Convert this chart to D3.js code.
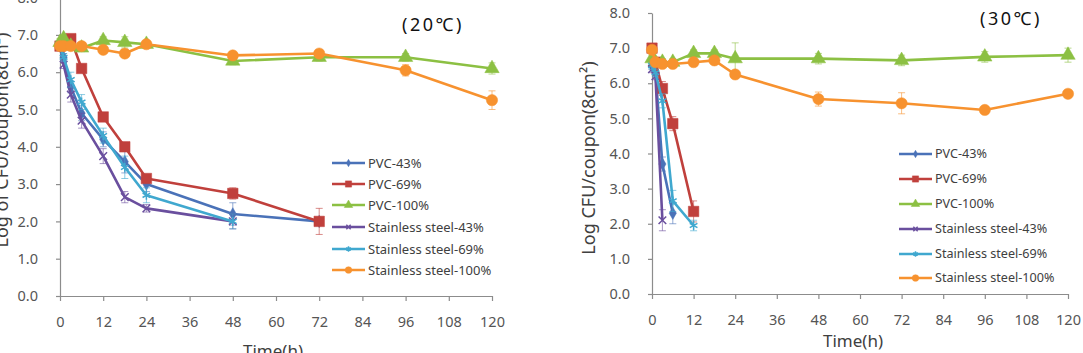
<!DOCTYPE html>
<html><head><meta charset="utf-8">
<script src="https://cdn.jsdelivr.net/npm/d3@7"></script>
<style>body{margin:0;background:#fff;} svg{display:block;}</style>
</head><body>
<svg id="c" width="1083" height="353"></svg>
<script>
// ---------- data ----------
const times = [0, 1, 3, 6, 12, 18, 24, 48, 72, 96, 120];
const xTicks = [0, 12, 24, 36, 48, 60, 72, 84, 96, 108, 120];
const yTicks = [0, 1, 2, 3, 4, 5, 6, 7, 8];
const seriesNames = ["PVC-43%", "PVC-69%", "PVC-100%", "Stainless steel-43%", "Stainless steel-69%", "Stainless steel-100%"];
const titles = ["(20\u2103)", "(30\u2103)"];

// 20 °C
const t20_pvc43  = [6.7, 6.4, 5.6, 4.9, 4.2, 3.6, 3.0, 2.2, 2.0, null, null];
const t20_pvc69  = [6.7, 6.8, 6.9, 6.1, 4.8, 4.0, 3.15, 2.75, 2.0, null, null];
const t20_pvc100 = [6.8, 6.9, 6.7, 6.65, 6.85, 6.8, 6.75, 6.3, 6.4, 6.4, 6.1];
const t20_ss43   = [6.7, 6.2, 5.4, 4.7, 3.75, 2.65, 2.35, 2.0, null, null, null];
const t20_ss69   = [6.7, 6.4, 5.8, 5.2, 4.3, 3.45, 2.7, 2.0, null, null, null];
const t20_ss100  = [6.7, 6.7, 6.7, 6.7, 6.6, 6.5, 6.75, 6.45, 6.5, 6.05, 5.25];
const e20_pvc43  = [0.1, 0.1, 0.15, 0.2, 0.2, 0.3, 0.2, 0.3, 0.1, null, null];
const e20_pvc69  = [0.1, 0.1, 0.1, 0.1, 0.1, 0.1, 0.1, 0.15, 0.35, null, null];
const e20_pvc100 = [0.1, 0.1, 0.1, 0.1, 0.1, 0.15, 0.1, 0.1, 0.1, 0.1, 0.15];
const e20_ss43   = [0.1, 0.1, 0.2, 0.2, 0.2, 0.15, 0.1, 0.2, null, null, null];
const e20_ss69   = [0.1, 0.1, 0.2, 0.2, 0.2, 0.3, 0.2, 0.2, null, null, null];
const e20_ss100  = [0.1, 0.1, 0.1, 0.1, 0.1, 0.1, 0.1, 0.1, 0.1, 0.15, 0.25];

// 30 °C
const t30_pvc43  = [6.5, 6.3, 3.7, 2.3, null, null, null, null, null, null, null];
const t30_pvc69  = [7.0, 6.6, 5.85, 4.85, 2.35, null, null, null, null, null, null];
const t30_pvc100 = [6.7, 6.6, 6.6, 6.6, 6.85, 6.85, 6.7, 6.7, 6.65, 6.75, 6.8];
const t30_ss43   = [6.4, 6.2, 2.1, null, null, null, null, null, null, null, null];
const t30_ss69   = [6.5, 6.3, 5.5, 2.65, 1.95, null, null, null, null, null, null];
const t30_ss100  = [6.95, 6.6, 6.55, 6.55, 6.6, 6.65, 6.25, 5.55, 5.43, 5.24, 5.7];
const e30_pvc43  = [0.1, 0.1, 0.2, 0.3, null, null, null, null, null, null, null];
const e30_pvc69  = [0.1, 0.1, 0.2, 0.2, 0.3, null, null, null, null, null, null];
const e30_pvc100 = [0.1, 0.1, 0.1, 0.1, 0.1, 0.1, 0.45, 0.15, 0.15, 0.15, 0.2];
const e30_ss43   = [0.1, 0.1, 0.3, null, null, null, null, null, null, null, null];
const e30_ss69   = [0.1, 0.1, 0.2, 0.3, 0.15, null, null, null, null, null, null];
const e30_ss100  = [0.1, 0.1, 0.1, 0.1, 0.1, 0.1, 0.1, 0.2, 0.3, 0.1, 0.1];

// ---------- style ----------
const colors = ["#4a72b8", "#c0403c", "#8cc043", "#6a4f9e", "#40a8cf", "#f7922f"];
const symTypes = [d3.symbolDiamond, d3.symbolSquare, d3.symbolTriangle, d3.symbolTimes, d3.symbolAsterisk, d3.symbolCircle];
const symSizes = [45, 110, 90, 40, 55, 100];
const symStroke = [false, false, false, true, true, false];
const font = "'Noto Sans', 'Open Sans', sans-serif";

const panels = [
  { x0: 60, x1: 492, yZero: 296, yTop: -2.4,
    data: [t20_pvc43, t20_pvc69, t20_pvc100, t20_ss43, t20_ss69, t20_ss100],
    err:  [e20_pvc43, e20_pvc69, e20_pvc100, e20_ss43, e20_ss69, e20_ss100],
    title: titles[0], titleX: 433, titleY: 31,
    legX: 332, legRows: [163, 184, 205, 227, 249, 270], legFont: 13,
    ylabel: "Log of CFU/coupon(8cm\u00b2)", ylabX: 8, ylabY: 140,
    xlabX: 273, xlabY: 357 },
  { x0: 652, x1: 1068, yZero: 294, yTop: 13,
    data: [t30_pvc43, t30_pvc69, t30_pvc100, t30_ss43, t30_ss69, t30_ss100],
    err:  [e30_pvc43, e30_pvc69, e30_pvc100, e30_ss43, e30_ss69, e30_ss100],
    title: titles[1], titleX: 1011, titleY: 25,
    legX: 899, legRows: [154, 179, 204, 229, 254, 278], legFont: 12.6,
    ylabel: "Log CFU/coupon(8cm\u00b2)", ylabX: 595, ylabY: 158,
    xlabX: 853, xlabY: 347 }
];

const svg = d3.select("#c");

function drawMarker(g, i, x, y, scale) {
  const s = d3.symbol().type(symTypes[i]).size(symSizes[i] * (scale || 1));
  const p = g.append("path").attr("d", s()).attr("transform", `translate(${x},${y})`);
  if (symStroke[i]) p.attr("fill", "none").attr("stroke", colors[i]).attr("stroke-width", 1.5);
  else p.attr("fill", colors[i]).attr("stroke", colors[i]).attr("stroke-width", 0.5);
}

panels.forEach(P => {
  const x = d3.scaleLinear().domain([0, 120]).range([P.x0, P.x1]);
  const y = d3.scaleLinear().domain([0, 8]).range([P.yZero, P.yTop]);
  const g = svg.append("g");

  // axes
  const ax = g.append("g").attr("transform", `translate(0,${P.yZero})`)
    .call(d3.axisBottom(x).tickValues(xTicks).tickSize(5).tickPadding(16).tickSizeOuter(0).tickFormat(d3.format("d")));
  const ay = g.append("g").attr("transform", `translate(${P.x0},0)`)
    .call(d3.axisLeft(y).tickValues(yTicks).tickSize(4).tickPadding(18).tickSizeOuter(0).tickFormat(d3.format(".1f")));
  [ax, ay].forEach(a => {
    a.selectAll("path, line").attr("stroke", "#8c8c8c").attr("stroke-width", 1.2);
    a.selectAll("text").attr("fill", "#555").attr("font-family", font).attr("font-size", 14.5);
  });

  // series
  P.data.forEach((vals, i) => {
    const pts = times.map((t, k) => ({ t, v: vals[k], e: P.err[i][k] })).filter(d => d.v != null);
    const sg = g.append("g");
    // error bars
    pts.forEach(d => {
      if (!d.e) return;
      const cx = x(d.t), yl = y(d.v - d.e), yh = y(d.v + d.e);
      sg.append("line").attr("x1", cx).attr("x2", cx).attr("y1", yl).attr("y2", yh)
        .attr("stroke", colors[i]).attr("stroke-opacity", 0.6).attr("stroke-width", 1);
      [yl, yh].forEach(yy => sg.append("line").attr("x1", cx - 3.5).attr("x2", cx + 3.5).attr("y1", yy).attr("y2", yy)
        .attr("stroke", colors[i]).attr("stroke-opacity", 0.6).attr("stroke-width", 1));
    });
    sg.append("path").datum(pts)
      .attr("d", d3.line().x(d => x(d.t)).y(d => y(d.v)))
      .attr("fill", "none").attr("stroke", colors[i]).attr("stroke-width", 2.6).attr("stroke-linejoin", "round");
    pts.forEach(d => drawMarker(sg, i, x(d.t), y(d.v)));
  });

  // legend
  seriesNames.forEach((name, i) => {
    const yy = P.legRows[i];
    g.append("line").attr("x1", P.legX).attr("x2", P.legX + 33).attr("y1", yy).attr("y2", yy)
      .attr("stroke", colors[i]).attr("stroke-width", 2.6);
    drawMarker(g, i, P.legX + 16.5, yy, 0.35);
    g.append("text").attr("x", P.legX + 36).attr("y", yy).attr("dy", "0.35em")
      .attr("font-family", font).attr("font-size", P.legFont).attr("fill", "#404040").text(name);
  });

  // titles
  g.append("text").attr("x", P.titleX).attr("y", P.titleY).attr("text-anchor", "middle")
    .attr("font-family", font).attr("font-size", 18).attr("letter-spacing", 2.5).attr("fill", "#111").text(P.title);
  g.append("text").attr("x", P.xlabX).attr("y", P.xlabY).attr("text-anchor", "middle")
    .attr("font-family", font).attr("font-size", 17).attr("fill", "#404040").text("Time(h)");
  g.append("text").attr("transform", `translate(${P.ylabX},${P.ylabY}) rotate(-90)`).attr("text-anchor", "middle")
    .attr("font-family", font).attr("font-size", 18).attr("fill", "#404040").text(P.ylabel);
});
</script>
</body></html>
